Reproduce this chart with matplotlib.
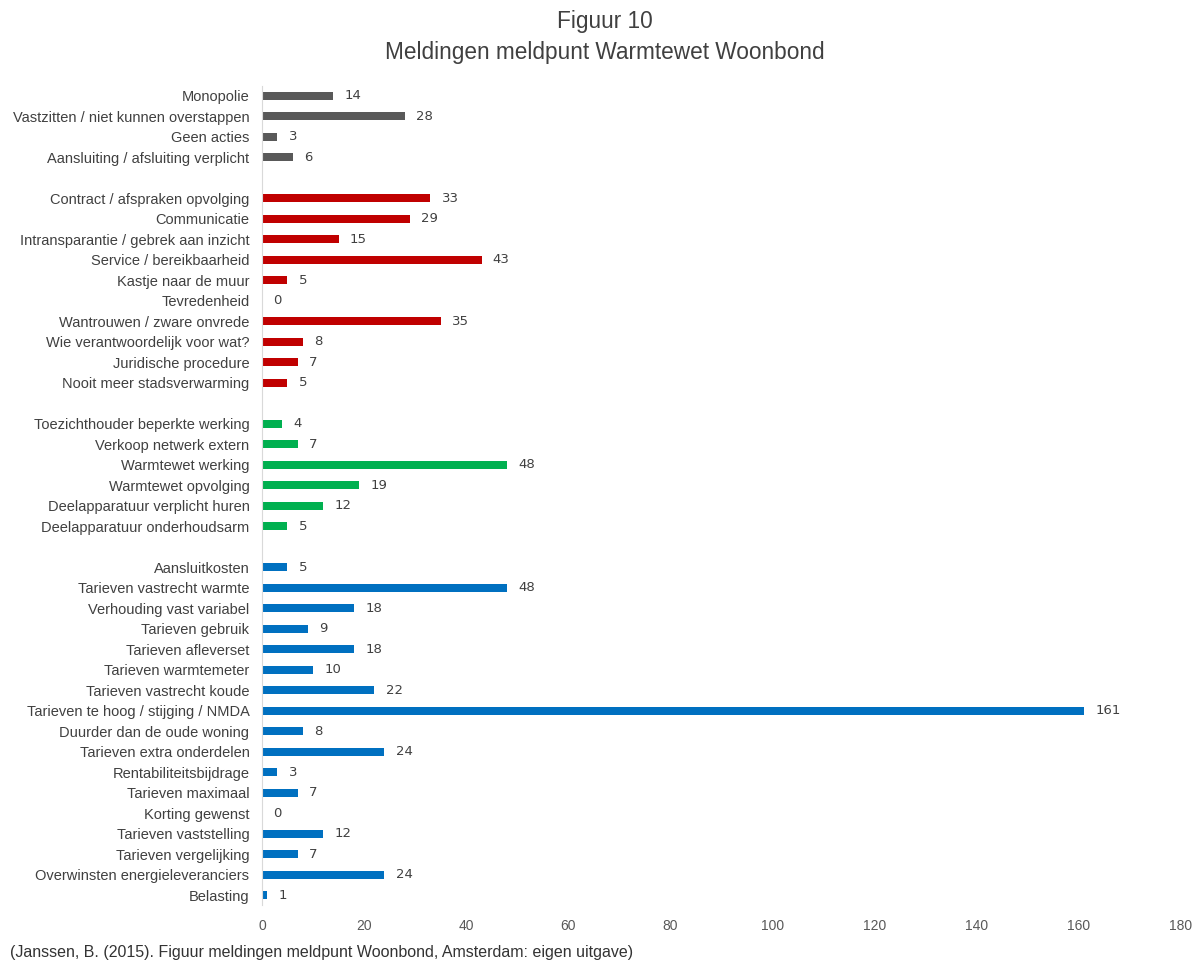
import matplotlib.pyplot as plt
import numpy as np

plt.rcParams['font.family'] = ['Liberation Sans', 'DejaVu Sans']

groep_grijs = ["Monopolie", "Vastzitten / niet kunnen overstappen", "Geen acties",
               "Aansluiting / afsluiting verplicht"]
waarden_grijs = [14, 28, 3, 6]

groep_rood = ["Contract / afspraken opvolging", "Communicatie",
              "Intransparantie / gebrek aan inzicht", "Service / bereikbaarheid",
              "Kastje naar de muur", "Tevredenheid", "Wantrouwen / zware onvrede",
              "Wie verantwoordelijk voor wat?", "Juridische procedure",
              "Nooit meer stadsverwarming"]
waarden_rood = [33, 29, 15, 43, 5, 0, 35, 8, 7, 5]

groep_groen = ["Toezichthouder beperkte werking", "Verkoop netwerk extern",
               "Warmtewet werking", "Warmtewet opvolging",
               "Deelapparatuur verplicht huren", "Deelapparatuur onderhoudsarm"]
waarden_groen = [4, 7, 48, 19, 12, 5]

groep_blauw = ["Aansluitkosten", "Tarieven vastrecht warmte", "Verhouding vast variabel",
               "Tarieven gebruik", "Tarieven afleverset", "Tarieven warmtemeter",
               "Tarieven vastrecht koude", "Tarieven te hoog / stijging / NMDA",
               "Duurder dan de oude woning", "Tarieven extra onderdelen",
               "Rentabiliteitsbijdrage", "Tarieven maximaal", "Korting gewenst",
               "Tarieven vaststelling", "Tarieven vergelijking",
               "Overwinsten energieleveranciers", "Belasting"]
waarden_blauw = [5, 48, 18, 9, 18, 10, 22, 161, 8, 24, 3, 7, 0, 12, 7, 24, 1]

groepen = [(groep_grijs, waarden_grijs, '#595959'),
           (groep_rood, waarden_rood, '#C00000'),
           (groep_groen, waarden_groen, '#00B050'),
           (groep_blauw, waarden_blauw, '#0070C0')]

fig = plt.figure(figsize=(11.95, 9.6), dpi=100)
ax = fig.add_axes([0.2192, 0.0568, 0.9883 - 0.2192, 0.9109 - 0.0568])

pos = 0
yticks, ylabels = [], []
for labels, vals, kleur in groepen:
    y = np.arange(pos, pos + len(vals))
    ax.barh(y, vals, height=0.4, color=kleur)
    for yi, v in zip(y, vals):
        ax.text(v + 2.2, yi, str(v), va='center', ha='left', fontsize=9.5,
                color='#404040', family=['DejaVu Sans'])
    yticks.extend(y)
    ylabels.extend(labels)
    pos += len(vals) + 1

ax.set_ylim(pos - 1.5, -0.5)
ax.set_xlim(0, 180)
ax.set_xticks(np.arange(0, 181, 20))
ax.set_yticks(yticks)
ax.set_yticklabels(ylabels, fontsize=10.5, color='#404040')
ax.tick_params(axis='both', length=0)
ax.tick_params(axis='x', labelsize=10, labelcolor='#595959', pad=10)
ax.tick_params(axis='y', pad=9)
for s in ['top', 'right', 'bottom']:
    ax.spines[s].set_visible(False)
ax.spines['left'].set_color('#D9D9D9')

fig.text(0.506, 0.961, "Figuur 10\nMeldingen meldpunt Warmtewet Woonbond",
         ha='center', va='center', fontsize=16.3, color='#404040', linespacing=1.45)
fig.text(0.008, 0.008, "(Janssen, B. (2015). Figuur meldingen meldpunt Woonbond, Amsterdam: eigen uitgave)",
         ha='left', va='center', fontsize=11.5, color='#333333')

fig.savefig('out.png', dpi=100)
